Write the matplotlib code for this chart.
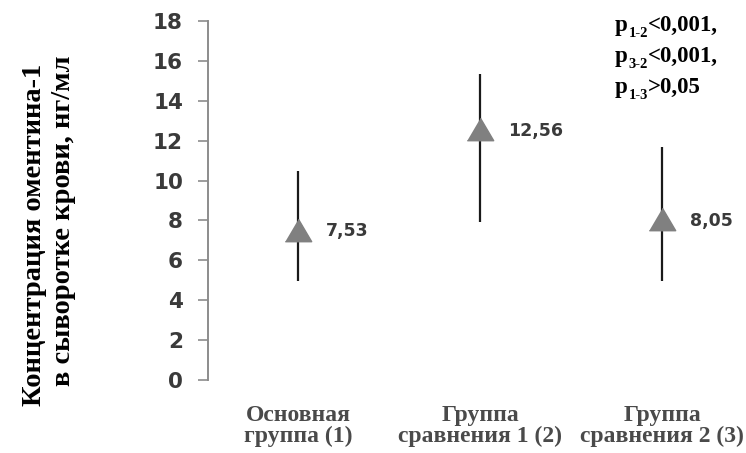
import numpy as np
import matplotlib
matplotlib.use('Agg')
import matplotlib.pyplot as plt

# values
groups = ['Основная\nгруппа (1)', 'Группа\nсравнения 1 (2)', 'Группа\nсравнения 2 (3)']
means = [7.53, 12.56, 8.05]
lower = [4.95, 7.9, 4.95]
upper = [10.5, 15.35, 11.7]
mean_labels = ['7,53', '12,56', '8,05']
yticks = [0, 2, 4, 6, 8, 10, 12, 14, 16, 18]

p_text = [('1-2', '<0,001,'), ('3-2', '<0,001,'), ('1-3', '>0,05')]

serif = 'Liberation Serif'
sans = 'DejaVu Sans'
tick_col = '#3a3a3a'

fig = plt.figure(figsize=(7.46, 4.53), dpi=100)
ax = fig.add_axes([208/746, 1-380/453, 1-208/746, (380-21)/453])

x = np.arange(len(groups))
# vertical range lines
ax.vlines(x, lower, upper, color='#1a1a1a', lw=1.6, zorder=2)
# gray triangles
tri = [(-1, -0.85), (1, -0.85), (0, 0.85)]
ax.plot(x, means, ls='none', marker=tri, ms=19, color='#808080', mec='#808080', zorder=3)

for i in range(len(x)):
    ax.annotate(mean_labels[i], xy=(x[i], means[i]), xytext=(20, -1), textcoords='offset points',
                va='center', ha='left', fontsize=12.5, fontweight='bold', family=sans, color=tick_col)

ax.set_xlim(-0.495, 2.46)
ax.set_ylim(0, 18)
ax.set_yticks(yticks)
ax.set_yticklabels([str(v) for v in yticks], fontsize=15.5, fontweight='bold', family=sans, color=tick_col)
ax.tick_params(axis='y', direction='out', length=7, width=1.2, color='#8c8c8c', pad=11)

ax.set_xticks(x)
ax.set_xticklabels(groups, fontsize=17, fontweight='bold', family=serif, color='#4a4a4a', linespacing=1.0)
ax.tick_params(axis='x', length=0, pad=18)

for s in ['top', 'right', 'bottom']:
    ax.spines[s].set_visible(False)
ax.spines['left'].set_color('#8c8c8c')
ax.spines['left'].set_linewidth(1.4)

# y axis title, two lines
fig.text(35/746, 1-235/453, 'Концентрация оментина-1', rotation=90, ha='center', va='center',
         fontsize=20.5, fontweight='bold', family=serif)
fig.text(64/746, 1-221/453, 'в сыворотке крови, нг/мл', rotation=90, ha='center', va='center',
         fontsize=20.5, fontweight='bold', family=serif)

# p values with subscripts
y0 = 1 - 36/453
for k, (sub, rest) in enumerate(p_text):
    yy = y0 - k*31/453
    t1 = fig.text(615/746, yy, 'p', fontsize=16.5, fontweight='bold', family=serif, va='bottom')
    t2 = plt.annotate(sub, xy=(1, 0), xycoords=t1, xytext=(0.5, -3), textcoords='offset points',
                      fontsize=10.5, fontweight='bold', family=serif, va='bottom', ha='left')
    t3 = plt.annotate(rest, xy=(1, 0), xycoords=(t2, t1), xytext=(0, 0), textcoords='offset points',
                      fontsize=16.5, fontweight='bold', family=serif, va='bottom', ha='left')

plt.savefig('out.png', dpi=100)
